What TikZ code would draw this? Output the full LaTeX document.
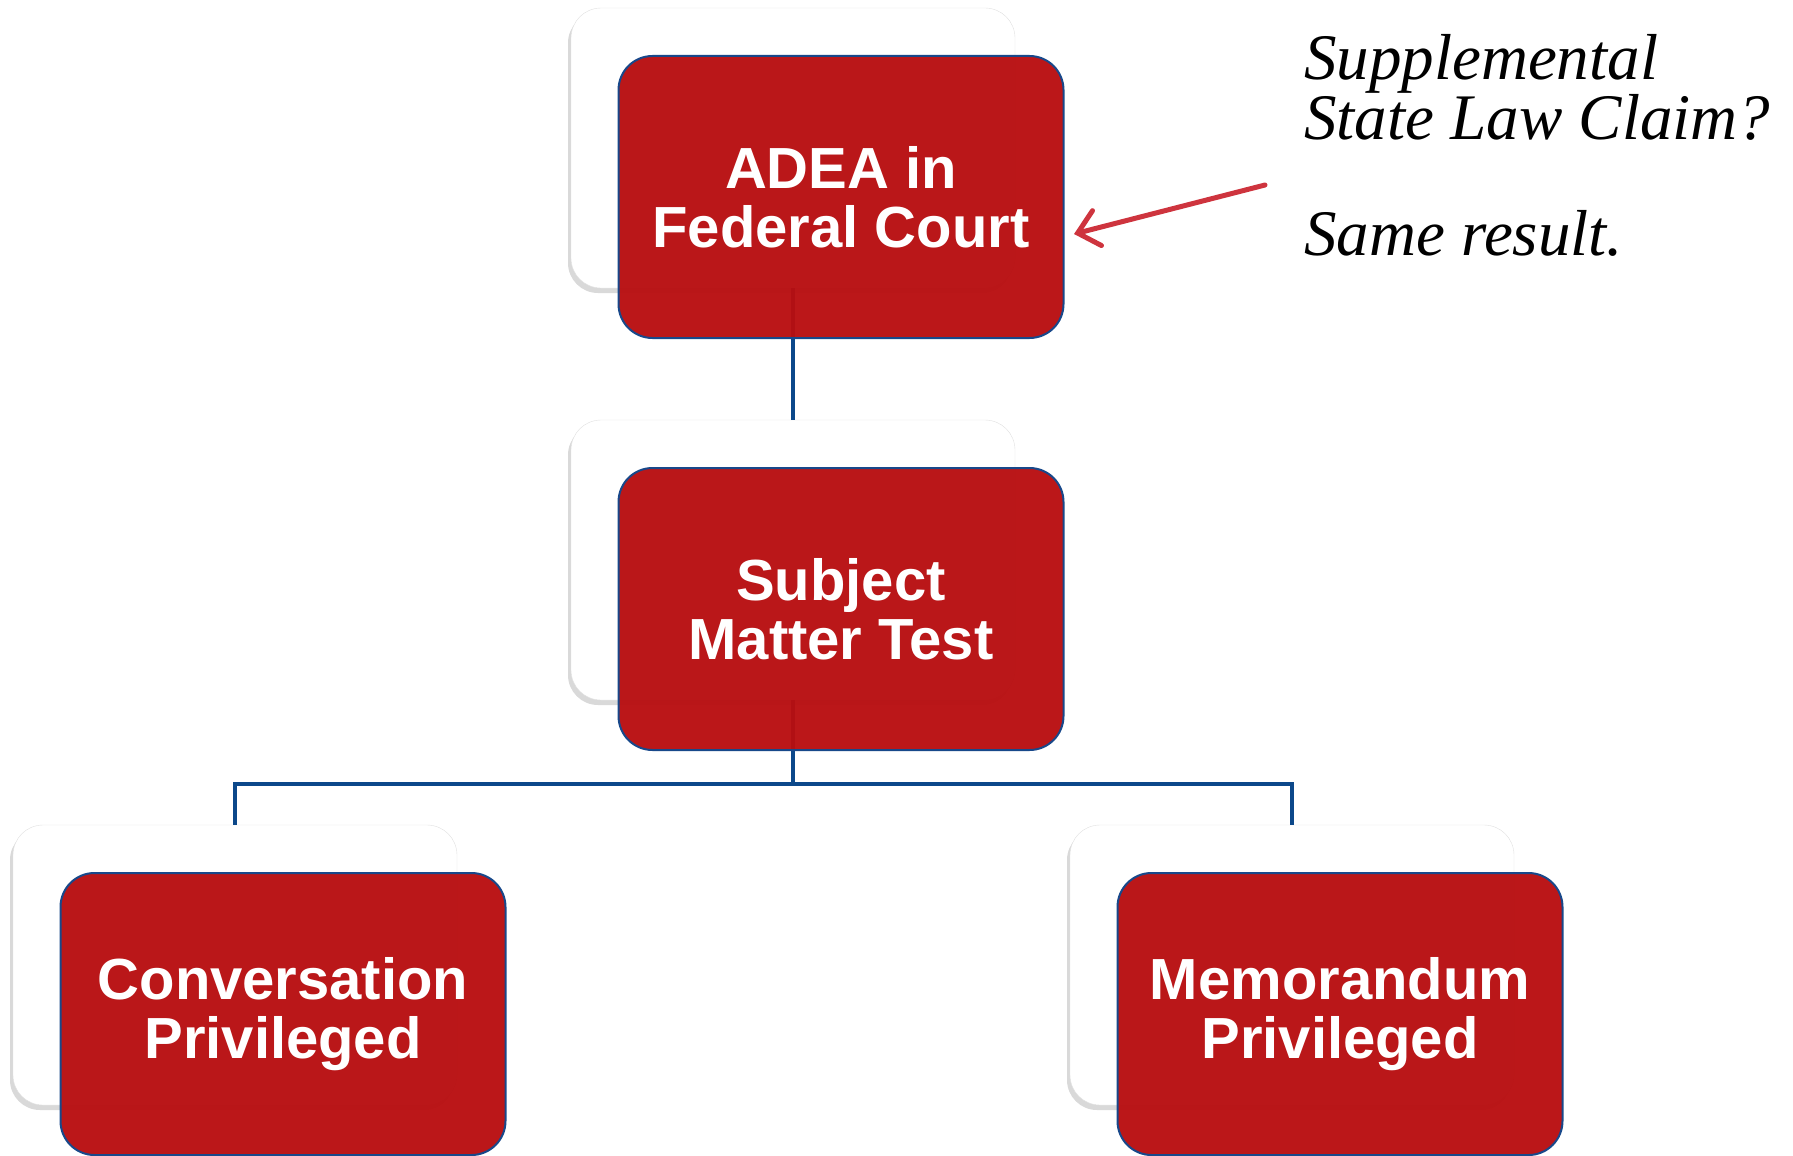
\documentclass[tikz,border=0pt]{standalone}
\usepackage{fontspec}
\setmainfont{Liberation Sans}
\newfontfamily\notefont{Liberation Serif}
\usetikzlibrary{arrows.meta, positioning, shadows}

\definecolor{boxred}{RGB}{184,14,16}
\definecolor{boxblue}{RGB}{24,72,138}
\definecolor{linkblue}{RGB}{12,72,138}
\definecolor{notered}{RGB}{206,52,62}

\tikzset{
  card/.style={draw=black!12, fill=white, rounded corners=30pt,
    minimum width=444pt, minimum height=280pt, inner sep=0pt,
    drop shadow={shadow xshift=-3pt, shadow yshift=-5pt, opacity=0.3}},
  redbox/.style={draw=boxblue, line width=2pt, fill=boxred, fill opacity=0.96,
    text opacity=1, rounded corners=34pt, minimum width=445pt, minimum height=282pt,
    inner sep=0pt, align=center, text=white,
    font=\fontsize{58}{59}\selectfont\bfseries},
  link/.style={draw=linkblue, line width=4pt},
}

\begin{document}
\begin{tikzpicture}[x=1pt, y=-1pt]
\useasboundingbox (0,0) rectangle (1793,1156);

%white cards
\node[card] (adeaCard) at (793,148) {};
\node[card] (subjCard) at (793,560) {};
\node[card] (convCard) at (235,965) {};
\node[card] (memoCard) at (1292,965) {};

%connectors
\coordinate (fork) at (793,784);
\draw[link] (adeaCard.south) -- (subjCard.north);
\draw[link] (subjCard.south) -- (fork);
\draw[link] (fork) -| (convCard.north);
\draw[link] (fork) -| (memoCard.north);

%red boxes
\node[redbox] (adea) at ([shift={(48,49)}]adeaCard.center) {ADEA in\\Federal Court};
\node[redbox] (subj) at ([shift={(48,49)}]subjCard.center) {Subject\\Matter Test};
\node[redbox] (conv) at ([shift={(48,49)}]convCard.center) {Conversation\\Privileged};
\node[redbox] (memo) at ([shift={(48,49)}]memoCard.center) {Memorandum\\Privileged};

%note
\node[anchor=north west, inner sep=0pt, align=left,
  font=\notefont\itshape\fontsize{65}{58}\selectfont] (note) at (1304,34)
  {Supplemental\\State Law Claim?\\[58pt]Same result.};
\coordinate (noteTail) at (1265,185);
\coordinate (noteHead) at (1074,234);
\draw[notered, line width=5pt, line cap=round,
  -{Straight Barb[length=20pt, width=36pt, line cap=round]}] (noteTail) -- (noteHead);
\end{tikzpicture}
\end{document}
